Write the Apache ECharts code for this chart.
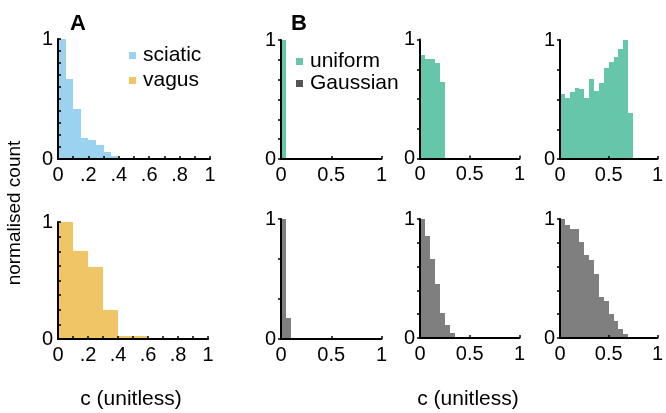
<!DOCTYPE html>
<html><head><meta charset="utf-8">
<script src="https://cdn.jsdelivr.net/npm/echarts@6/dist/echarts.min.js"></script>
<style>html,body{margin:0;padding:0;background:#fff}#c{width:666px;height:413px}</style>
</head><body><div id="c"></div>
<script>
// ---- data ----
const sciaticBinWidth = 0.05;
const sciaticCounts = [1.0, 0.667, 0.42, 0.178, 0.158, 0.117, 0.058, 0.028, 0, 0.008, 0, 0.008];
const vagusBinWidth = 0.1;
const vagusCounts = [1.0, 0.75, 0.614, 0.247, 0.026, 0.026];
const uniformBinWidth = 0.05;
const uniformNarrow = [1.0];
const uniformMedium = [0.87, 0.84, 0.84, 0.80, 0.645];
const uniformWide = [0.545, 0.514, 0.564, 0.598, 0.587, 0.514, 0.673, 0.575, 0.64, 0.765, 0.816, 0.858, 0.925, 1.0, 0.388];
const gaussianBinWidth = 0.05;
const gaussianNarrow = [1.0, 0.178];
const gaussianMedium = [1.0, 0.857, 0.664, 0.454, 0.213, 0.109, 0.039, 0.011];
const gaussianWide = [1.0, 0.952, 0.913, 0.916, 0.81, 0.697, 0.655, 0.538, 0.347, 0.308, 0.202, 0.143, 0.078, 0.034, 0.011, 0.008];
const xTicksA = [0, 0.2, 0.4, 0.6, 0.8, 1];
const xTickLabelsA = ['0', '.2', '.4', '.6', '.8', '1'];
const xTicksB = [0, 0.5, 1];
const xTickLabelsB = ['0', '0.5', '1'];
const yTicks = [0, 1];
const yTickLabels = ['0', '1'];

const F = "'Liberation Sans', Arial, Helvetica, sans-serif";
const COL = {sciatic: '#9BD2EF', vagus: '#F0C566', uniform: '#66C6AA', gaussian: '#7F7F7F', gaussLegend: '#555555'};

function lookup(ticks, labels) {
  return v => { for (let i = 0; i < ticks.length; i++) if (Math.abs(v - ticks[i]) < 1e-6) return labels[i]; return ''; };
}

const grids = [
  {left: 58, top: 39, width: 152, height: 120},
  {left: 58, top: 222, width: 150, height: 117},
  {left: 281, top: 40, width: 100.5, height: 119},
  {left: 420, top: 39.5, width: 99.5, height: 119},
  {left: 560, top: 40, width: 99.5, height: 119},
  {left: 281, top: 219, width: 100.5, height: 120},
  {left: 420, top: 219, width: 99.5, height: 119},
  {left: 560, top: 219, width: 99.5, height: 119}
];
const yIntervals = [0.1, 0.125, 1/6, 0.25, 0.25, 1/3, 0.2, 0.2];

function xAxisFor(gi) {
  const isA = gi < 2;
  return {
    type: 'value', gridIndex: gi, min: 0, max: 1, interval: isA ? 0.1 : 0.5, z: 5,
    axisLine: {show: true, onZero: false, lineStyle: {color: '#000', width: 2}},
    axisTick: {show: true, inside: true, length: 3, lineStyle: {color: '#000', width: 1.5}},
    splitLine: {show: false},
    axisLabel: {show: true, margin: 6, color: '#000', fontSize: 20, fontFamily: F,
      formatter: isA ? lookup(xTicksA, xTickLabelsA) : lookup(xTicksB, xTickLabelsB)}
  };
}
function yAxisFor(gi) {
  const isA = gi < 2;
  return {
    type: 'value', gridIndex: gi, min: 0, max: 1, interval: yIntervals[gi], z: 5,
    axisLine: {show: true, onZero: false, lineStyle: {color: '#000', width: 2}},
    axisTick: {show: true, inside: isA, length: 3, lineStyle: {color: '#000', width: 1.5}},
    splitLine: {show: false},
    axisLabel: {show: true, margin: 5, color: '#000', fontSize: 20, fontFamily: F,
      formatter: lookup(yTicks, yTickLabels)}
  };
}

function hist(name, counts, binWidth, gi, color) {
  return {
    type: 'custom', name: name, xAxisIndex: gi, yAxisIndex: gi, z: 2,
    itemStyle: {color: color},
    encode: {x: [0, 1], y: 2},
    data: counts.map((h, i) => [i * binWidth, (i + 1) * binWidth, h]),
    renderItem: (params, api) => {
      const p0 = api.coord([api.value(0), api.value(2)]);
      const p1 = api.coord([api.value(1), 0]);
      const x0 = Math.round(p0[0]), x1 = Math.round(p1[0]);
      const y0 = Math.round(p0[1]), y1 = Math.round(p1[1]);
      return {type: 'rect', shape: {x: x0, y: y0, width: x1 - x0, height: y1 - y0},
        style: {fill: color}};
    }
  };
}

const series = [
  hist('sciatic', sciaticCounts, sciaticBinWidth, 0, COL.sciatic),
  hist('vagus', vagusCounts, vagusBinWidth, 1, COL.vagus),
  hist('uniform', uniformNarrow, uniformBinWidth, 2, COL.uniform),
  hist('uniform', uniformMedium, uniformBinWidth, 3, COL.uniform),
  hist('uniform', uniformWide, uniformBinWidth, 4, COL.uniform),
  hist('Gaussian', gaussianNarrow, gaussianBinWidth, 5, COL.gaussian),
  hist('Gaussian', gaussianMedium, gaussianBinWidth, 6, COL.gaussian),
  hist('Gaussian', gaussianWide, gaussianBinWidth, 7, COL.gaussian)
];

const legendText = {color: '#000', fontSize: 21, fontFamily: F, lineHeight: 20, padding: [0, 0, 0, 2]};
const option = {
  animation: false,
  backgroundColor: '#fff',
  grid: grids,
  xAxis: grids.map((g, i) => xAxisFor(i)),
  yAxis: grids.map((g, i) => yAxisFor(i)),
  series: series,
  legend: [
    {orient: 'vertical', left: 124, top: 40, icon: 'rect', itemWidth: 7, itemHeight: 7, itemGap: 4,
      selectedMode: false, textStyle: legendText,
      data: [{name: 'sciatic', itemStyle: {color: COL.sciatic}}, {name: 'vagus', itemStyle: {color: COL.vagus}}]},
    {orient: 'vertical', left: 291, top: 46, icon: 'rect', itemWidth: 7, itemHeight: 7, itemGap: 1,
      selectedMode: false, textStyle: legendText,
      data: [{name: 'uniform', itemStyle: {color: COL.uniform}}, {name: 'Gaussian', itemStyle: {color: COL.gaussLegend}}]}
  ],
  graphic: [
    {type: 'text', x: 78, y: 24, style: {text: 'A', font: "bold 22px " + F, fill: '#000', textAlign: 'center', textVerticalAlign: 'middle'}},
    {type: 'text', x: 299, y: 24, style: {text: 'B', font: "bold 22px " + F, fill: '#000', textAlign: 'center', textVerticalAlign: 'middle'}},
    {type: 'text', x: 15, y: 213, rotation: Math.PI / 2, style: {text: 'normalised count', font: "19px " + F, fill: '#000', textAlign: 'center', textVerticalAlign: 'middle'}},
    {type: 'text', x: 131, y: 399, style: {text: 'c (unitless)', font: "21px " + F, fill: '#000', textAlign: 'center', textVerticalAlign: 'middle'}},
    {type: 'text', x: 468, y: 399, style: {text: 'c (unitless)', font: "21px " + F, fill: '#000', textAlign: 'center', textVerticalAlign: 'middle'}}
  ]
};
echarts.init(document.getElementById('c'), null, {renderer: 'canvas'}).setOption(option);
</script>
</body></html>
